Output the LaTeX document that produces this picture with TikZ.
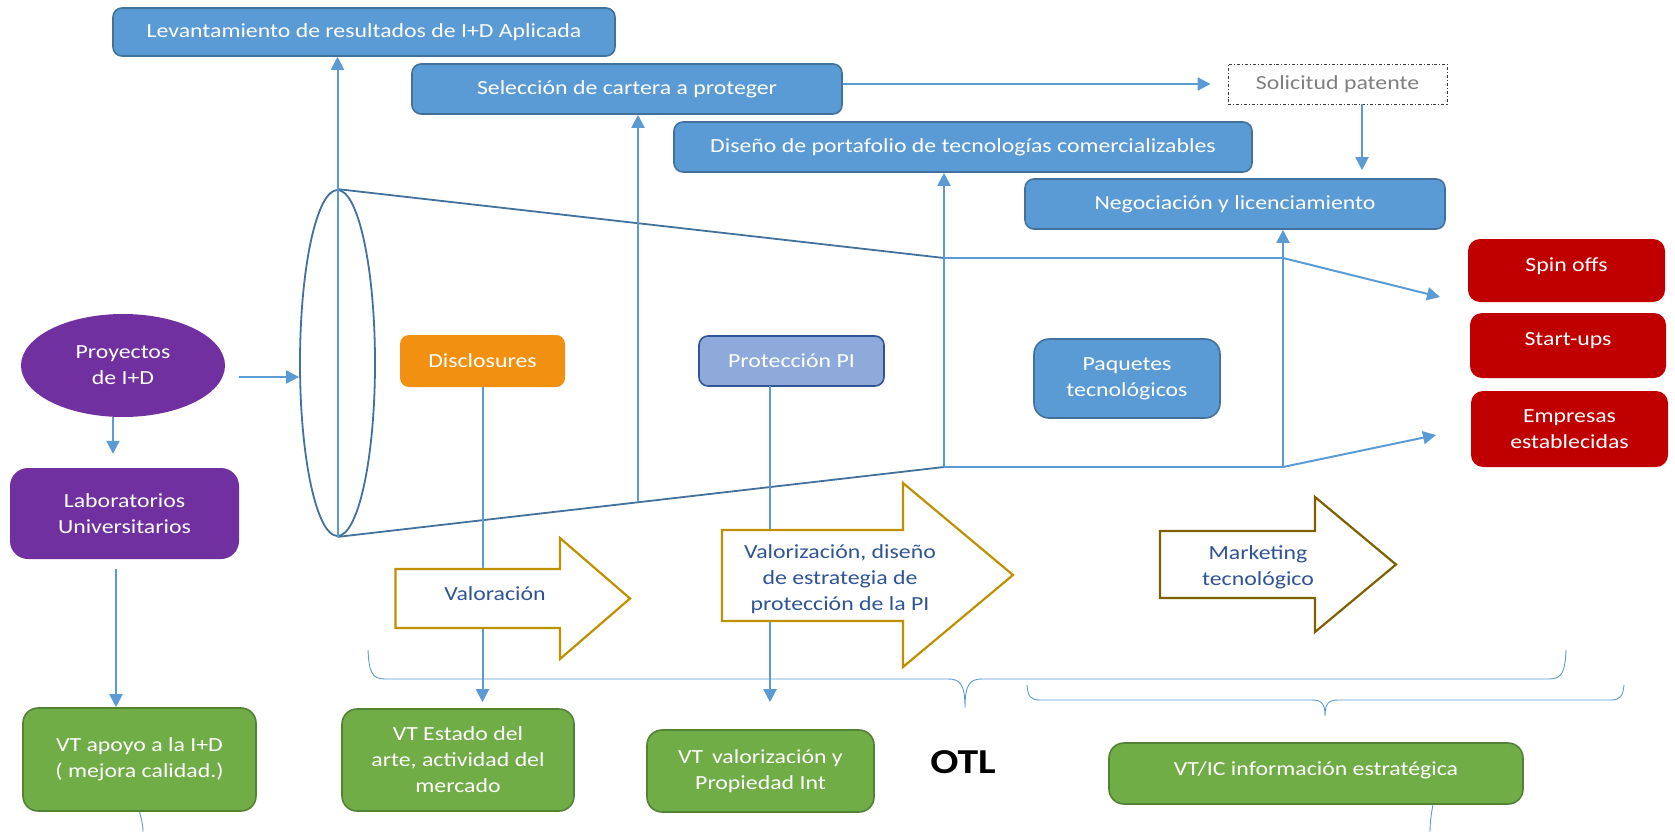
\documentclass[tikz,border=0pt]{standalone}
\usepackage{fontspec}
\setmainfont{Carlito}[FakeStretch=1.19]
\usetikzlibrary{arrows.meta,shapes.geometric,calc}

\definecolor{boxblue}{HTML}{5B9BD5}
\definecolor{boxedge}{HTML}{41719C}
\definecolor{funnelblue}{HTML}{41719C}
\definecolor{redbox}{HTML}{C00000}
\definecolor{greenbox}{HTML}{70AD47}
\definecolor{greenedge}{HTML}{548235}
\definecolor{purplebox}{HTML}{7030A0}
\definecolor{orangebox}{HTML}{F29111}
\definecolor{ipfill}{HTML}{8EAADB}
\definecolor{ipedge}{HTML}{2F5597}
\definecolor{goldline}{HTML}{BF9000}
\definecolor{brownline}{HTML}{7F6000}
\definecolor{arrowtext}{HTML}{2F5496}
\definecolor{dashgray}{HTML}{404040}
\definecolor{softgray}{HTML}{7F7F7F}

\begin{document}
\begin{tikzpicture}[x=1pt,y=-1pt,
  every node/.style={font=\fontsize{20}{26}\selectfont, align=center, inner sep=0pt},
  bluebox/.style={draw=boxedge, line width=1.6pt, fill=boxblue, text=white, rounded corners=9pt},
  redrect/.style={fill=redbox, text=white, rounded corners=12pt},
  greenrect/.style={draw=greenedge, line width=1.6pt, fill=greenbox, text=white, rounded corners=15pt},
  purplerect/.style={fill=purplebox, text=white, rounded corners=18pt},
  conn/.style={draw=boxblue, line width=2pt, -{Triangle[length=13pt,width=13pt]}},
  plainblue/.style={draw=boxblue, line width=2pt},
  funnelline/.style={draw=funnelblue, line width=1.8pt},
  blockarrow/.style={fill=white, line width=2.2pt, line join=miter},
  arrowlabel/.style={text=arrowtext},
  bracket/.style={draw=boxblue, line width=0.9pt}
]
\useasboundingbox (0,0) rectangle (1675,832);

% ---- top row of process boxes
\node[bluebox, minimum width=502pt, minimum height=48pt] (lev) at (364,32) {Levantamiento de resultados de I+D Aplicada};
\node[bluebox, minimum width=430pt, minimum height=50pt] (sel) at (627,89) {Selección de cartera a proteger};
\node[draw=dashgray, line width=0.9pt, dash dot, text=softgray, minimum width=219pt, minimum height=40pt] (sol) at (1337.5,84) {Solicitud patente};
\node[bluebox, minimum width=578pt, minimum height=50pt] (dis) at (963,147) {Diseño de portafolio de tecnologías comercializables};
\node[bluebox, minimum width=420pt, minimum height=50pt] (neg) at (1235,204) {Negociación y licenciamiento};

% ---- outcomes on the right
\node[redrect, text depth=12pt, minimum width=197pt, minimum height=63pt] (spin) at (1566.5,270.5) {Spin offs};
\node[redrect, text depth=12pt, minimum width=196pt, minimum height=65pt] (start) at (1568,345.5) {Start-ups};
\node[redrect, minimum width=197pt, minimum height=76pt] (emp) at (1569.5,429) {Empresas\\establecidas};

% ---- origin of the projects
\node[ellipse, fill=purplebox, text=white, minimum width=204pt, minimum height=103pt] (proy) at (123,365.5) {Proyectos\\de I+D};
\node[purplerect, minimum width=229pt, minimum height=91pt] (lab) at (124.5,513.5) {Laboratorios\\Universitarios};

% ---- stages inside the funnel
\node[fill=orangebox, text=white, rounded corners=9pt, minimum width=165pt, minimum height=52pt] (discl) at (482.5,361) {Disclosures};
\node[draw=ipedge, line width=1.6pt, fill=ipfill, text=white, rounded corners=9pt, minimum width=185pt, minimum height=50pt] (prot) at (791.5,361) {Protección PI};
\node[bluebox, rounded corners=15pt, minimum width=186pt, minimum height=79pt] (paq) at (1127,378.5) {Paquetes\\tecnológicos};

% ---- watch boxes at the bottom
\node[greenrect, minimum width=233pt, minimum height=103pt] (vtapoyo) at (139.5,759.5) {VT apoyo a la I+D\\( mejora calidad.)};
\node[greenrect, minimum width=232pt, minimum height=102pt] (vtest) at (458,760) {VT Estado del\\arte, actividad del\\mercado};
\node[greenrect, minimum width=227pt, minimum height=82pt] (vtval) at (760.5,771) {VT\, valorización y\\Propiedad Int};
\node[greenrect, text depth=10pt, minimum width=414pt, minimum height=61pt] (vtic) at (1316,773.5) {VT/IC información estratégica};
\node[font=\fontsize{35}{40}\selectfont\bfseries] (otl) at (963,762) {OTL};

% ---- funnel
\node[ellipse, draw=funnelblue, line width=1.8pt, minimum width=75pt, minimum height=346pt] (lens) at (337.5,363) {};
\coordinate (tl) at (944,258);
\coordinate (tr) at (1283,258);
\coordinate (bl) at (944,467);
\coordinate (br) at (1283,467);
\draw[funnelline] (lens.north) -- (tl);
\draw[funnelline] (lens.south) -- (bl);
\draw[plainblue] (tl) -- (tr);
\draw[plainblue] (bl) -- (br);

% ---- connectors
\coordinate (proyout) at (239,377);
\coordinate (proyfoot) at (113,417);
\coordinate (labfoot) at (116,569);
\coordinate (selfoot) at (638,501.8);
\coordinate (solfoot) at (1362,104);
\coordinate (protfoot) at (770,386);
\coordinate (spintip) at (1440,297);
\coordinate (emptip) at (1436,435);

\draw[conn] (proyout) -- (proyout -| lens.west);
\draw[conn, shorten >=14pt] (proyfoot) -- (proyfoot |- lab.north);
\draw[conn] (labfoot) -- (labfoot |- vtapoyo.north);
\draw[conn] (lens.south) -- (lens.south |- lev.south);
\draw[conn] (selfoot) -- (selfoot |- sel.south);
\draw[conn] (bl) -- (bl |- dis.south);
\draw[conn] (br) -- (br |- neg.south);
\draw[conn] (tr) -- (spintip);
\draw[conn] (br) -- (emptip);
\draw[conn, shorten >=17pt] (sel.east |- sol.west) -- (sol.west);
\draw[conn, shorten >=8pt] (solfoot) -- (solfoot |- neg.north);
\draw[conn, shorten >=6pt] (discl.south) -- (discl.south |- vtest.north);
\draw[conn, shorten >=27pt] (protfoot) -- (protfoot |- vtval.north);

% ---- block arrows of the three phases
\draw[blockarrow, draw=goldline] (395.5,569) -- (560,569) -- (560,538) -- (630,598.5) -- (560,659) -- (560,628) -- (395.5,628) -- cycle;
\node[arrowlabel] (valo) at (495,594) {Valoración};
\draw[blockarrow, draw=goldline] (722,530) -- (903,530) -- (903,483) -- (1013,575) -- (903,667) -- (903,621) -- (722,621) -- cycle;
\node[arrowlabel] (valz) at (840,579) {Valorización, diseño\\de estrategia de\\protección de la PI};
\draw[blockarrow, draw=brownline] (1160,531) -- (1315,531) -- (1315,497) -- (1396,564.5) -- (1315,632) -- (1315,598) -- (1160,598) -- cycle;
\node[arrowlabel] (mkt) at (1258,567) {Marketing\\tecnológico};

% ---- grouping brackets
\draw[bracket] (368,650) .. controls (369,672) and (372,679) .. (385,679) -- (948,679)
  .. controls (960,679) and (965,684) .. (965,708)
  .. controls (965,684) and (970,679) .. (982,679) -- (1549,679)
  .. controls (1562,679) and (1565,672) .. (1566,650);
\draw[bracket] (1027,685) .. controls (1028,696) and (1030,700) .. (1040,700) -- (1312,700)
  .. controls (1322,700) and (1325,704) .. (1325,716)
  .. controls (1325,704) and (1328,700) .. (1338,700) -- (1611,700)
  .. controls (1620,700) and (1623,696) .. (1624,685);
\coordinate (apoyotail) at (143,832);
\coordinate (ictop) at (1433,804.5);
\coordinate (ictail) at (1430,832);
\draw[bracket] (vtapoyo.south) .. controls +(2,8) and +(0,-8) .. (apoyotail);
\draw[bracket] (ictop) .. controls +(-2,10) and +(0,-8) .. (ictail);
\end{tikzpicture}
\end{document}
